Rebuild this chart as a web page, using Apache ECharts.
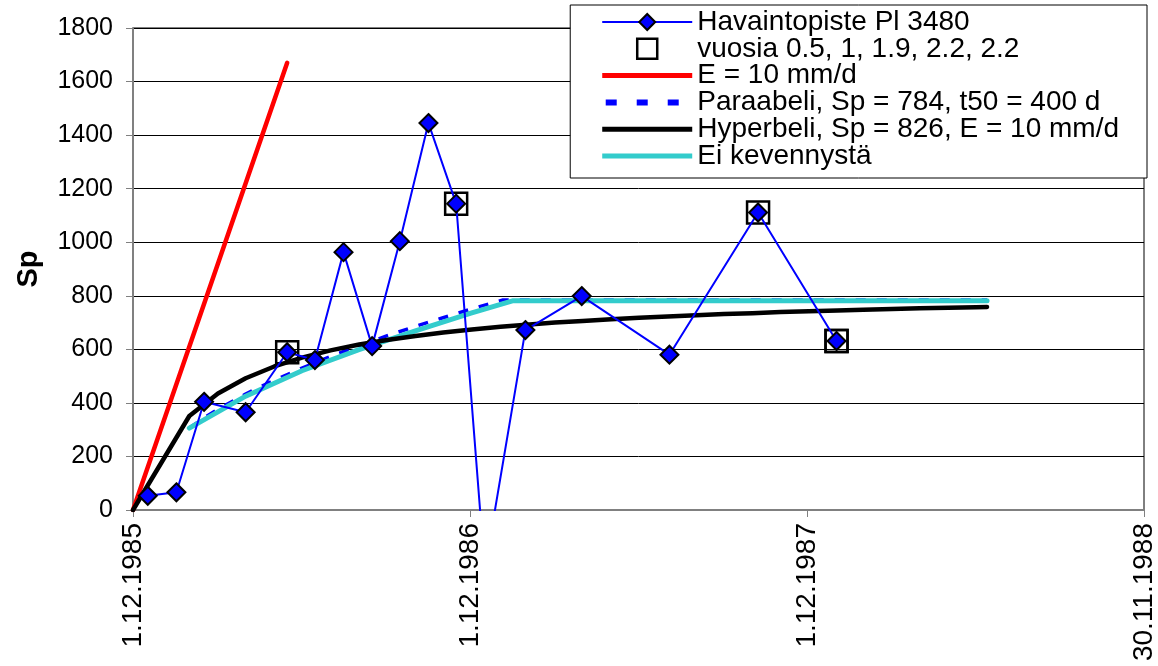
<!DOCTYPE html>
<html><head><meta charset="utf-8">
<script src="https://cdn.jsdelivr.net/npm/echarts@6/dist/echarts.min.js"></script>
<style>html,body{margin:0;padding:0;background:#fff}#c{width:1158px;height:666px}</style>
</head><body><div id="c"></div>
<script>
// x values are days counted from 1.12.1985
const xTickDays = [0, 365, 730, 1095];
const xTickLabels = ['1.12.1985', '1.12.1986', '1.12.1987', '30.11.1988'];
const yTicks = [0, 200, 400, 600, 800, 1000, 1200, 1400, 1600, 1800];

const seriesNames = [
  'Havaintopiste Pl 3480',
  'vuosia 0.5, 1, 1.9, 2.2, 2.2',
  'E = 10 mm/d',
  'Paraabeli, Sp = 784, t50 = 400 d',
  'Hyperbeli, Sp = 826, E = 10 mm/d',
  'Ei kevennystä'
];

const obsDays   = [16, 47, 77, 122, 167, 197, 228, 259, 289, 320, 350, 381, 425, 486, 581, 677, 762];
const obsValues = [53, 66, 404, 365, 589, 560, 963, 612, 1004, 1445, 1144, -225, 672, 799, 580, 1111, 631];

const ageDays   = [167, 350, 677, 762, 762];
const ageValues = [589, 1144, 1111, 631, 631];

const redDays   = [0, 167];
const redValues = [0, 1670];

const paraDays   = [61, 76, 91, 122, 152, 183, 213, 244, 274, 305, 335, 366, 396, 400, 925];
const paraValues = [306, 342, 374, 433, 483, 530, 572, 612, 649, 685, 717, 750, 780, 784, 784];

const hypDays   = [0, 61, 92, 122, 153, 183, 214, 245, 275, 306, 336, 367, 398, 426, 457, 487, 518, 548, 579, 610, 640, 671, 701, 732, 763, 791, 822, 852, 883, 913, 925];
const hypValues = [0, 351, 435, 492, 536, 569, 596, 618, 635, 650, 663, 674, 684, 692, 700, 706, 712, 718, 723, 727, 732, 735, 739, 742, 745, 748, 751, 753, 755, 757, 758];

const eiDays   = [61, 122, 183, 244, 305, 366, 411, 925];
const eiValues = [306, 425, 520, 598, 668, 735, 781, 781];

const pairs = (xs, ys) => xs.map((x, i) => [x, ys[i]]);
const FONT = 'Liberation Sans, Arial, sans-serif';
const barIcon = 'path://M0,0 L90,0 L90,5 L0,5 Z';
const dashIcon = 'path://M0,0h11v6h-11z M31,0h11v6h-11z M62,0h11v6h-11z M83,-7 L83,-7 M0,13 L0,13';

const chart = echarts.init(document.getElementById('c'), null, {renderer: 'canvas'});
chart.setOption({
  animation: false,
  backgroundColor: '#fff',
  grid: {left: 133, right: 11, top: 28, bottom: 156, show: true, borderColor: '#000', borderWidth: 1, backgroundColor: 'transparent'},
  xAxis: {
    type: 'value', min: xTickDays[0], max: xTickDays[xTickDays.length - 1], interval: 365,
    axisLine: {onZero: false, lineStyle: {color: '#808080', width: 2}},
    axisTick: {show: true, inside: false, length: 7, lineStyle: {color: '#808080', width: 1}},
    splitLine: {show: false},
    axisLabel: {
      rotate: 90, margin: 13, fontSize: 28, color: '#000', fontFamily: FONT,
      formatter: v => { const i = xTickDays.indexOf(v); return i >= 0 ? xTickLabels[i] : ''; }
    }
  },
  yAxis: {
    type: 'value', min: yTicks[0], max: yTicks[yTicks.length - 1], interval: 200,
    name: 'Sp', nameLocation: 'middle', nameRotate: 90, nameGap: 90,
    nameTextStyle: {fontSize: 29, fontWeight: 'bold', color: '#000', fontFamily: FONT},
    axisLine: {show: true, lineStyle: {color: '#808080', width: 2}},
    axisTick: {show: true, inside: false, length: 7, lineStyle: {color: '#808080', width: 1}},
    splitLine: {show: true, lineStyle: {color: '#000', width: 1}},
    axisLabel: {margin: 20, fontSize: 25, color: '#000', fontFamily: FONT, formatter: v => String(v)}
  },
  legend: {
    orient: 'vertical', right: 11, top: 5,
    backgroundColor: '#fff', borderColor: '#000', borderWidth: 1,
    padding: [3, 28, 8, 31],
    itemWidth: 90, itemHeight: 20, itemGap: -1.2,
    textStyle: {fontSize: 28, lineHeight: 26.7, color: '#000', fontFamily: FONT},
    data: [
      {name: seriesNames[0]},
      {name: seriesNames[1], icon: 'path://M0,0 L10,0 L10,10 L0,10 Z', itemStyle: {color: 'transparent', borderColor: '#000', borderWidth: 2.5}},
      {name: seriesNames[2], icon: barIcon, itemStyle: {color: '#ff0000', borderWidth: 0}},
      {name: seriesNames[3], icon: dashIcon, itemStyle: {color: '#0000ff', borderWidth: 0}},
      {name: seriesNames[4], icon: barIcon, itemStyle: {color: '#000000', borderWidth: 0}},
      {name: seriesNames[5], icon: barIcon, itemStyle: {color: '#33cccc', borderWidth: 0}}
    ]
  },
  series: [
    {
      name: seriesNames[0], type: 'line', z: 10, clip: true,
      data: pairs(obsDays, obsValues),
      symbol: 'diamond', symbolSize: 18, showAllSymbol: true,
      lineStyle: {color: '#0000ff', width: 2},
      itemStyle: {color: '#0000ff', borderColor: '#000', borderWidth: 2}
    },
    {
      name: seriesNames[1], type: 'scatter', z: 9,
      data: pairs(ageDays, ageValues),
      symbol: 'rect', symbolSize: 22,
      itemStyle: {color: 'transparent', borderColor: '#000', borderWidth: 2.5, opacity: 1}
    },
    {
      name: seriesNames[2], type: 'line', z: 5, showSymbol: false, symbol: 'none',
      data: pairs(redDays, redValues),
      itemStyle: {color: '#ff0000'},
      lineStyle: {color: '#ff0000', width: 4.5, cap: 'round'}
    },
    {
      name: seriesNames[3], type: 'line', z: 4, showSymbol: false, symbol: 'none',
      data: pairs(paraDays, paraValues),
      itemStyle: {color: '#0000ff'},
      lineStyle: {color: '#0000ff', width: 3.5, type: [10, 11]}
    },
    {
      name: seriesNames[4], type: 'line', z: 6, showSymbol: false, symbol: 'none',
      data: pairs(hypDays, hypValues),
      itemStyle: {color: '#000'},
      lineStyle: {color: '#000', width: 4.5, cap: 'round', join: 'round'}
    },
    {
      name: seriesNames[5], type: 'line', z: 5, showSymbol: false, symbol: 'none',
      data: pairs(eiDays, eiValues),
      itemStyle: {color: '#33cccc'},
      lineStyle: {color: '#33cccc', width: 5, cap: 'round', join: 'round'}
    }
  ]
});
</script>
</body></html>
